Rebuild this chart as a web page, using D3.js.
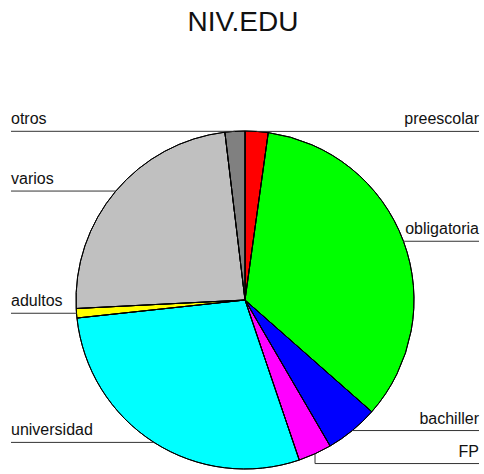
<!DOCTYPE html>
<html>
<head>
<meta charset="utf-8">
<script src="https://cdn.jsdelivr.net/npm/d3@7"></script>
<style>
  html, body { margin: 0; padding: 0; background: #fff; }
  svg { display: block; font-family: "Liberation Sans", Arial, sans-serif; }
</style>
</head>
<body>
<div id="chart"></div>
<script>
// --- data (percentages) ---
const categories = ["preescolar", "obligatoria", "bachiller", "FP", "universidad", "adultos", "varios", "otros"];
const values     = [2.2, 34.3, 5.1, 3.2, 28.5, 0.9, 23.9, 1.9];
const sliceColors = ["#ff0000", "#00ff00", "#0000ff", "#ff00ff", "#00ffff", "#ffff00", "#c0c0c0", "#808080"];
const chartTitle = "NIV.EDU";

const width = 484, height = 474;
const cx = 245, cy = 300, radius = 169;
const minGap = 33; // label spacing

const svg = d3.select("#chart").append("svg")
  .attr("width", width).attr("height", height);

svg.append("text")
  .attr("x", 243).attr("y", 31)
  .attr("text-anchor", "middle")
  .attr("font-size", 28)
  .attr("fill", "#111")
  .text(chartTitle);

const rows = categories.map((c, i) => ({ name: c, value: values[i], color: sliceColors[i] }));

const pie = d3.pie().sort(null).value(d => d.value);
const arcs = pie(rows);
const arc = d3.arc().innerRadius(0).outerRadius(radius);

const g = svg.append("g").attr("transform", `translate(${cx},${cy})`);

g.selectAll("path.slice")
  .data(arcs)
  .join("path")
  .attr("class", "slice")
  .attr("d", arc)
  .attr("fill", d => d.data.color)
  .attr("stroke", "#000")
  .attr("stroke-width", 1);

// label anchor points: on the rim at slice mid-angle
const labels = arcs.map(d => {
  const a = (d.startAngle + d.endAngle) / 2;
  const x = cx + radius * Math.sin(a);
  const y = cy - radius * Math.cos(a);
  return { name: d.data.name, x, y, ly: y, right: Math.sin(a) >= 0 };
});

// push labels apart on each side
[true, false].forEach(side => {
  const grp = labels.filter(l => l.right === side).sort((a, b) => a.y - b.y);
  for (let i = 1; i < grp.length; i++) {
    if (grp[i].ly < grp[i - 1].ly + minGap) grp[i].ly = grp[i - 1].ly + minGap;
  }
});

const lg = svg.append("g");
labels.forEach(l => {
  const xEnd = l.right ? 479 : 11;
  const pts = l.ly !== l.y
    ? [[l.x, l.y], [l.x, l.ly], [xEnd, l.ly]]
    : [[l.x, l.y], [xEnd, l.ly]];
  lg.append("path")
    .attr("d", d3.line()(pts))
    .attr("fill", "none")
    .attr("stroke", "#333")
    .attr("stroke-width", 1);
  lg.append("text")
    .attr("x", xEnd)
    .attr("y", l.ly - 7)
    .attr("text-anchor", l.right ? "end" : "start")
    .attr("font-size", 16)
    .attr("fill", "#111")
    .text(l.name);
});

// redraw pie outline edges over label lines
g.selectAll("path.edge")
  .data(arcs)
  .join("path")
  .attr("class", "edge")
  .attr("d", arc)
  .attr("fill", "none")
  .attr("stroke", "#000")
  .attr("stroke-width", 1);
</script>
</body>
</html>
